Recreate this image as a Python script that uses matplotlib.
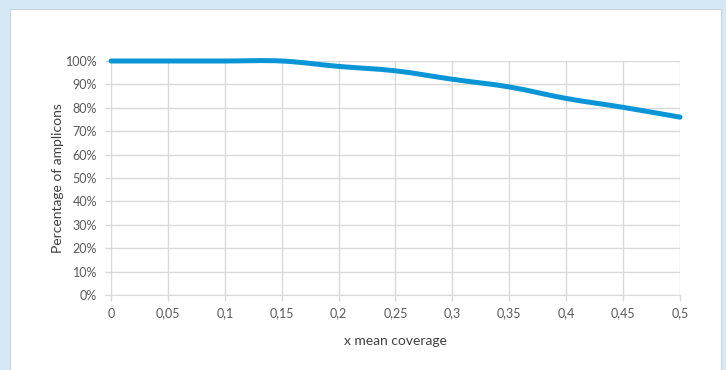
import matplotlib.pyplot as plt
import matplotlib.patches as patches
from matplotlib.path import Path
from matplotlib.ticker import FuncFormatter
import numpy as np

plt.rcParams['font.family'] = ['Lato', 'DejaVu Sans']

coverage = [0, 0.05, 0.1, 0.15, 0.2, 0.25, 0.3, 0.35, 0.4, 0.45, 0.5]
pct_amplicons = [100, 100, 100, 100, 97.7, 95.8, 92.2, 88.9, 84.0, 80.2, 76.0]
x_ticks = [0, 0.05, 0.1, 0.15, 0.2, 0.25, 0.3, 0.35, 0.4, 0.45, 0.5]
x_tick_labels = ['0', '0,05', '0,1', '0,15', '0,2', '0,25', '0,3', '0,35', '0,4', '0,45', '0,5']
y_ticks = [0, 10, 20, 30, 40, 50, 60, 70, 80, 90, 100]

LINE = '#0a96d6'
GRID = '#d9d9d9'
TXT = '#595959'


# smooth curve like excel, built as bezier path from the data points
def smooth_path(xs, ys):
    xs, ys = np.asarray(xs, float), np.asarray(ys, float)
    verts = [(xs[0], ys[0])]
    codes = [Path.MOVETO]
    n = len(xs)
    for i in range(n - 1):
        p0 = i - 1 if i > 0 else i
        p3 = i + 2 if i + 2 < n else i + 1
        c1 = (xs[i] + (xs[i + 1] - xs[p0]) / 6, ys[i] + (ys[i + 1] - ys[p0]) / 6)
        c2 = (xs[i + 1] - (xs[p3] - xs[i]) / 6, ys[i + 1] - (ys[p3] - ys[i]) / 6)
        verts += [c1, c2, (xs[i + 1], ys[i + 1])]
        codes += [Path.CURVE4] * 3
    return Path(verts, codes)


fig = plt.figure(figsize=(7.26, 3.70), dpi=100)
fig.patch.set_facecolor('#d5e8f5')

# white panel behind the chart
bg = fig.add_axes([10 / 726, 0, 711 / 726, 1 - 9 / 370], zorder=-5)
bg.set_xticks([])
bg.set_yticks([])
bg.set_facecolor('white')
for s in bg.spines.values():
    s.set_color('#c8d3dc')
    s.set_linewidth(0.8)
bg.spines['bottom'].set_visible(False)

ax = fig.add_axes([111 / 726, 1 - 295 / 370, 569 / 726, 234 / 370])
ax.set_facecolor('none')

ax.add_patch(patches.PathPatch(smooth_path(coverage, pct_amplicons), facecolor='none',
                               edgecolor=LINE, linewidth=3.6, capstyle='round',
                               joinstyle='round', zorder=3, clip_on=False))

ax.set_xlim(0, 0.5)
ax.set_ylim(0, 100)
ax.set_xticks(x_ticks)
ax.set_xticklabels(x_tick_labels)
ax.set_yticks(y_ticks)
ax.yaxis.set_major_formatter(FuncFormatter(lambda v, p: f'{int(v)}%'))

ax.grid(True, color=GRID, linewidth=1)
ax.set_axisbelow(True)
for s in ['top', 'right', 'left']:
    ax.spines[s].set_visible(False)
ax.spines['bottom'].set_color(GRID)
ax.tick_params(axis='both', colors=GRID, labelcolor=TXT, labelsize=9, length=4, width=1)
ax.tick_params(axis='y', pad=6)
ax.tick_params(axis='x', pad=5)

ax.set_xlabel('x mean coverage', fontsize=10, color='#404040', labelpad=11)
ax.set_ylabel('Percentage of amplicons', fontsize=10, color='#404040', labelpad=1)

plt.savefig('out.png', dpi=100, facecolor=fig.get_facecolor())
